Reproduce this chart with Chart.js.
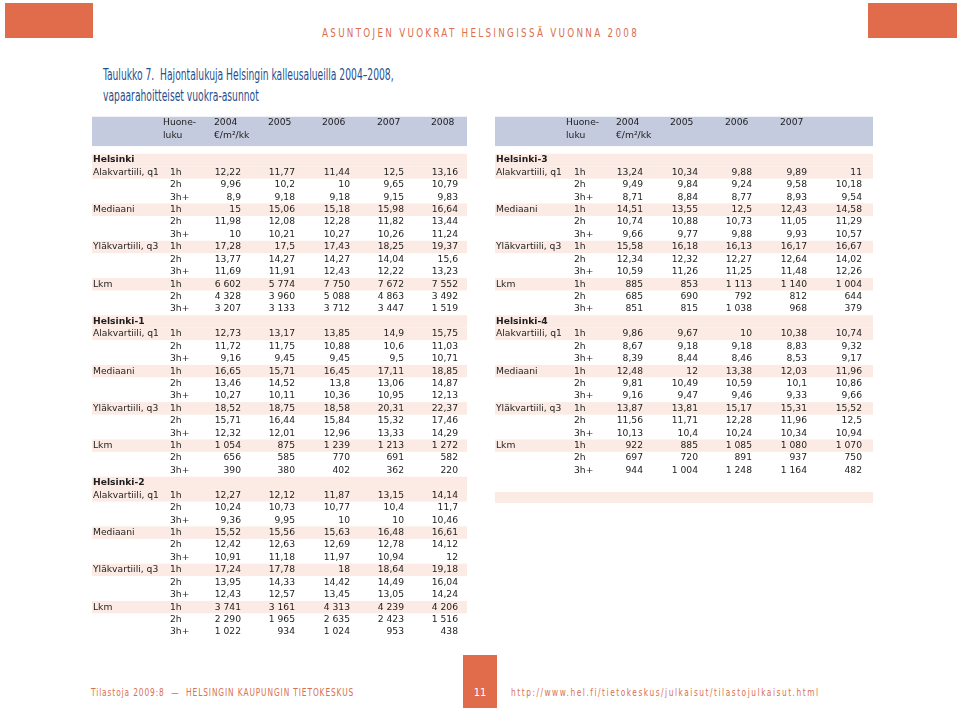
<!DOCTYPE html>
<html lang="fi">
<head>
<meta charset="utf-8">
<title>Hajontalukuja Helsingin kalleusalueilla 2004–2008</title>
<script src="https://cdn.jsdelivr.net/npm/chart.js@4.4.1/dist/chart.umd.min.js"></script>
<style>
  html, body { margin: 0; padding: 0; background: #fff; }
  body { width: 960px; height: 712px; position: relative; overflow: hidden;
         font-family: "Liberation Sans Narrow", "DejaVu Sans Condensed", "Roboto", sans-serif; }
  .box { position: absolute; background: #e06c4c; }
  .narrow { transform-origin: 0 50%; }
  .runhead { position: absolute; left: 322px; top: 25px; font-size: 13px; letter-spacing: 3.05px; color: #d9704f; white-space: nowrap; transform: scaleX(0.75); }
  .title { position: absolute; left: 103px; top: 65px; font-size: 15px; line-height: 21px; color: #1f4f8f; white-space: nowrap; transform: scaleX(0.68); }
  .foot { position: absolute; top: 686px; font-size: 11px; color: #d9704f; white-space: nowrap; transform: scaleX(0.75); }
  .page { color: #fff; font-size: 11px; text-align: center; box-sizing: border-box; padding-top: 31px; line-height: 14px; }
  canvas { position: absolute; }
</style>
</head>
<body>
<div class="box" style="left:5px;top:3px;width:88px;height:35px"></div>
<div class="box" style="left:868px;top:3px;width:89px;height:35px"></div>
<div class="runhead narrow">ASUNTOJEN VUOKRAT HELSINGISSÄ VUONNA 2008</div>
<div class="title narrow">Taulukko 7.&nbsp; Hajontalukuja Helsingin kalleusalueilla 2004–2008,<br>vapaarahoitteiset vuokra-asunnot</div>

<canvas id="leftTable" width="390" height="545" style="left:85px;top:105px"></canvas>
<canvas id="rightTable" width="400" height="545" style="left:480px;top:105px"></canvas>

<div class="foot narrow" style="left:91px;letter-spacing:1.2px">Tilastoja 2009:8 &nbsp;— &nbsp;HELSINGIN KAUPUNGIN TIETOKESKUS</div>
<div class="box page" style="left:463px;top:655px;width:34px;height:53px">11</div>
<div class="foot narrow" style="left:511px;letter-spacing:2.05px">http://www.hel.fi/tietokeskus/julkaisut/tilastojulkaisut.html</div>

<script>
// Vuodet, huoneluvut ja tunnusluvut
const years = ["2004", "2005", "2006", "2007", "2008"];
const rightHeaderYears = ["2004", "2005", "2006", "2007"];
const rooms = ["1h", "2h", "3h+"];
const measures = ["Alakvartiili, q1", "Mediaani", "Yläkvartiili, q3", "Lkm"];

// €/m²/kk ja lukumäärät, rivit: q1 1h,2h,3h+ / mediaani / q3 / lkm
const helsinki = [
    [12.22, 11.77, 11.44, 12.5, 13.16], [9.96, 10.2, 10, 9.65, 10.79], [8.9, 9.18, 9.18, 9.15, 9.83],
    [15, 15.06, 15.18, 15.98, 16.64], [11.98, 12.08, 12.28, 11.82, 13.44], [10, 10.21, 10.27, 10.26, 11.24],
    [17.28, 17.5, 17.43, 18.25, 19.37], [13.77, 14.27, 14.27, 14.04, 15.6], [11.69, 11.91, 12.43, 12.22, 13.23],
    [6602, 5774, 7750, 7672, 7552], [4328, 3960, 5088, 4863, 3492], [3207, 3133, 3712, 3447, 1519]
];
const helsinki1 = [
    [12.73, 13.17, 13.85, 14.9, 15.75], [11.72, 11.75, 10.88, 10.6, 11.03], [9.16, 9.45, 9.45, 9.5, 10.71],
    [16.65, 15.71, 16.45, 17.11, 18.85], [13.46, 14.52, 13.8, 13.06, 14.87], [10.27, 10.11, 10.36, 10.95, 12.13],
    [18.52, 18.75, 18.58, 20.31, 22.37], [15.71, 16.44, 15.84, 15.32, 17.46], [12.32, 12.01, 12.96, 13.33, 14.29],
    [1054, 875, 1239, 1213, 1272], [656, 585, 770, 691, 582], [390, 380, 402, 362, 220]
];
const helsinki2 = [
    [12.27, 12.12, 11.87, 13.15, 14.14], [10.24, 10.73, 10.77, 10.4, 11.7], [9.36, 9.95, 10, 10, 10.46],
    [15.52, 15.56, 15.63, 16.48, 16.61], [12.42, 12.63, 12.69, 12.78, 14.12], [10.91, 11.18, 11.97, 10.94, 12],
    [17.24, 17.78, 18, 18.64, 19.18], [13.95, 14.33, 14.42, 14.49, 16.04], [12.43, 12.57, 13.45, 13.05, 14.24],
    [3741, 3161, 4313, 4239, 4206], [2290, 1965, 2635, 2423, 1516], [1022, 934, 1024, 953, 438]
];
const helsinki3 = [
    [13.24, 10.34, 9.88, 9.89, 11], [9.49, 9.84, 9.24, 9.58, 10.18], [8.71, 8.84, 8.77, 8.93, 9.54],
    [14.51, 13.55, 12.5, 12.43, 14.58], [10.74, 10.88, 10.73, 11.05, 11.29], [9.66, 9.77, 9.88, 9.93, 10.57],
    [15.58, 16.18, 16.13, 16.17, 16.67], [12.34, 12.32, 12.27, 12.64, 14.02], [10.59, 11.26, 11.25, 11.48, 12.26],
    [885, 853, 1113, 1140, 1004], [685, 690, 792, 812, 644], [851, 815, 1038, 968, 379]
];
const helsinki4 = [
    [9.86, 9.67, 10, 10.38, 10.74], [8.67, 9.18, 9.18, 8.83, 9.32], [8.39, 8.44, 8.46, 8.53, 9.17],
    [12.48, 12, 13.38, 12.03, 11.96], [9.81, 10.49, 10.59, 10.1, 10.86], [9.16, 9.47, 9.46, 9.33, 9.66],
    [13.87, 13.81, 15.17, 15.31, 15.52], [11.56, 11.71, 12.28, 11.96, 12.5], [10.13, 10.4, 10.24, 10.34, 10.94],
    [922, 885, 1085, 1080, 1070], [697, 720, 891, 937, 750], [944, 1004, 1248, 1164, 482]
];

const FONT = '9.2px "DejaVu Sans", Verdana, sans-serif';
const TEXT = "#1e1e1e";
const HEAD_FILL = "#c5cbdf";
const ROW_FILL = "#fbebe4";
const ROW_PX = 12.42;   // rivin korkeus
const FIRST_ROW_PX = 55; // ensimmäisen rivin keskikohta canvasin yläreunasta

function fmt(v, count) {
    if (count) return String(v).replace(/\B(?=(\d{3})+(?!\d))/g, " ");
    return String(v).replace(".", ",");
}

function buildTable(canvasId, sections, headerYears, layout) {
    const canvas = document.getElementById(canvasId);
    const unit = layout.unit;
    const toX = px => (px - layout.firstPx) / unit;

    const labelX = toX(layout.labelPx);
    const roomX = toX(layout.roomPx);

    const labels = { data: [], texts: [], bold: [], align: "left" };
    const roomSet = { data: [], texts: [], align: "left" };
    const valueSets = years.map(() => ({ data: [], texts: [], align: "right" }));
    const shaded = [];

    sections.forEach((sec, s) => {
        const base = s * 13;
        labels.data.push({ x: labelX, y: base });
        labels.texts.push(sec.name);
        labels.bold.push(true);
        shaded.push(base);
        sec.values.forEach((row, r) => {
            const m = Math.floor(r / 3);
            const rowIdx = base + 1 + r;
            if (r % 3 === 0) {
                labels.data.push({ x: labelX, y: rowIdx });
                labels.texts.push(measures[m]);
                labels.bold.push(false);
                shaded.push(rowIdx);
            }
            roomSet.data.push({ x: roomX, y: rowIdx });
            roomSet.texts.push(rooms[r % 3]);
            row.forEach((v, k) => {
                valueSets[k].data.push({ x: k, y: rowIdx });
                valueSets[k].texts.push(fmt(v, m === 3));
            });
        });
    });

    // otsikkorivi
    const header = { data: [], texts: [], align: "left" };
    header.data.push({ x: roomX - layout.headShift, y: -3.05 }, { x: roomX - layout.headShift, y: -2.0 });
    header.texts.push("Huone-", "luku");
    headerYears.forEach((yr, k) => {
        header.data.push({ x: k - 0.5, y: -3.05 });
        header.texts.push(yr);
    });
    header.data.push({ x: -0.5, y: -2.0 });
    header.texts.push("€/m²/kk");

    const datasets = [labels, roomSet, ...valueSets, header].map(d => Object.assign(d, {
        pointRadius: 0,
        showLine: false
    }));

    const rows = [...shaded.map(r => [r - 0.5, r + 0.5]), ...(layout.extraBand ? [layout.extraBand] : [])];

    const cellPlugin = {
        id: "tableCells",
        beforeDatasetsDraw(chart) {
            const { ctx, scales: { x, y } } = chart;
            const x0 = x.getPixelForValue(toX(layout.bandFrom));
            const x1 = x.getPixelForValue(toX(layout.bandTo));
            ctx.save();
            ctx.fillStyle = HEAD_FILL;
            const h0 = y.getPixelForValue(-3.48), h1 = y.getPixelForValue(-1.12);
            ctx.fillRect(x0, h0, x1 - x0, h1 - h0);
            ctx.fillStyle = ROW_FILL;
            rows.forEach(([a, b]) => {
                const p0 = y.getPixelForValue(a), p1 = y.getPixelForValue(b);
                ctx.fillRect(x0, p0, x1 - x0, p1 - p0);
            });
            ctx.restore();
        },
        afterDatasetsDraw(chart) {
            const ctx = chart.ctx;
            ctx.save();
            ctx.textBaseline = "middle";
            chart.data.datasets.forEach((ds, i) => {
                const meta = chart.getDatasetMeta(i);
                ctx.textAlign = ds.align;
                meta.data.forEach((pt, j) => {
                    ctx.font = (ds.bold && ds.bold[j] ? "bold " : "") + FONT;
                    ctx.fillStyle = TEXT;
                    ctx.fillText(ds.texts[j], Math.round(pt.x), pt.y);
                });
            });
            ctx.restore();
        }
    };

    const yMin = -FIRST_ROW_PX / ROW_PX;
    return new Chart(canvas.getContext("2d"), {
        type: "scatter",
        data: { datasets },
        options: {
            responsive: false,
            animation: false,
            events: [],
            devicePixelRatio: 1,
            layout: { padding: 0 },
            plugins: { legend: { display: false }, tooltip: { enabled: false } },
            scales: {
                x: { type: "linear", display: false, min: toX(0), max: toX(canvas.width) },
                y: { type: "linear", display: false, reverse: true, min: yMin, max: yMin + canvas.height / ROW_PX }
            }
        },
        plugins: [cellPlugin]
    });
}

document.addEventListener("DOMContentLoaded", () => {
    // pikselit suhteessa kunkin canvasin vasempaan reunaan
    buildTable("leftTable", [
        { name: "Helsinki", values: helsinki },
        { name: "Helsinki-1", values: helsinki1 },
        { name: "Helsinki-2", values: helsinki2 }
    ], years, {
        firstPx: 156, unit: 54.25, labelPx: 8, roomPx: 85, headShift: 0.12,
        bandFrom: 7, bandTo: 382
    });

    buildTable("rightTable", [
        { name: "Helsinki-3", values: helsinki3 },
        { name: "Helsinki-4", values: helsinki4 }
    ], rightHeaderYears, {
        firstPx: 163, unit: 54.75, labelPx: 16, roomPx: 94, headShift: 0.15,
        bandFrom: 15, bandTo: 393, extraBand: [26.73, 27.62]
    });
});
</script>
</body>
</html>
